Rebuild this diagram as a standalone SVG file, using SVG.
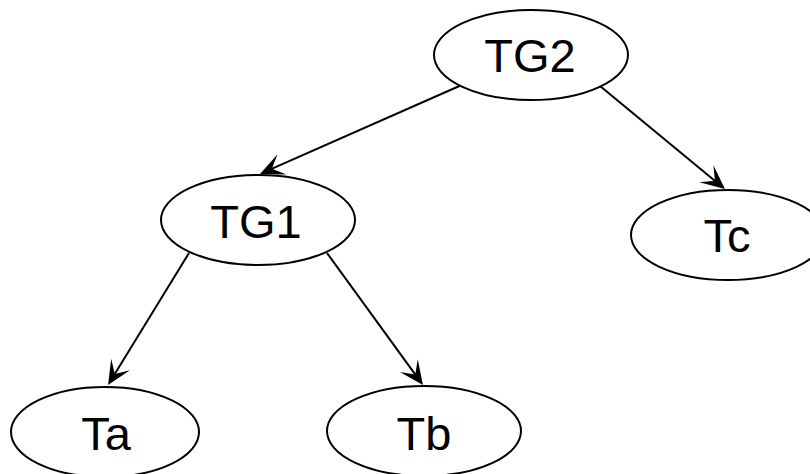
<svg xmlns="http://www.w3.org/2000/svg" width="810" height="474" viewBox="0 0 810 474">
  <style>
    .node ellipse { fill: #ffffff; stroke: #000000; stroke-width: 2; }
    .node text { font-family: "Liberation Sans", Arial, sans-serif; font-size: 47px; fill: #000000; text-anchor: middle; }
    .edge { fill: none; stroke: #000000; stroke-width: 2; marker-end: url(#arrow); }
  </style>
  <defs>
    <!-- notched arrowhead; tip sits 12px beyond the line end -->
    <marker id="arrow" markerUnits="userSpaceOnUse" viewBox="-14 -13 28 26" refX="0" refY="0" markerWidth="28" markerHeight="26" orient="auto" overflow="visible">
      <path d="M12,0 L-12,-11 L-1,0 L-12,11 Z" fill="#000000"/>
    </marker>
  </defs>
  <rect width="810" height="474" fill="#ffffff"/>

  <g id="connectors">
    <path class="edge" d="M461.7,85 L271,169.2"/>
    <path class="edge" d="M600,86 L715.7,181.4"/>
    <path class="edge" d="M189,253 L114.3,374.8"/>
    <path class="edge" d="M327,253 L415.9,375.3"/>
  </g>

  <g id="TG2" class="node">
    <ellipse cx="531" cy="55" rx="97" ry="45"/>
    <text x="530" y="72">TG2</text>
  </g>
  <g id="TG1" class="node">
    <ellipse cx="258" cy="220" rx="97" ry="45"/>
    <text x="256" y="238">TG1</text>
  </g>
  <g id="Tc" class="node">
    <ellipse cx="728" cy="235" rx="97" ry="45"/>
    <text x="727" y="252">Tc</text>
  </g>
  <g id="Ta" class="node">
    <ellipse cx="105" cy="432" rx="94" ry="45"/>
    <text x="106" y="450">Ta</text>
  </g>
  <g id="Tb" class="node">
    <ellipse cx="424" cy="431" rx="97" ry="45"/>
    <text x="424" y="450">Tb</text>
  </g>
</svg>
